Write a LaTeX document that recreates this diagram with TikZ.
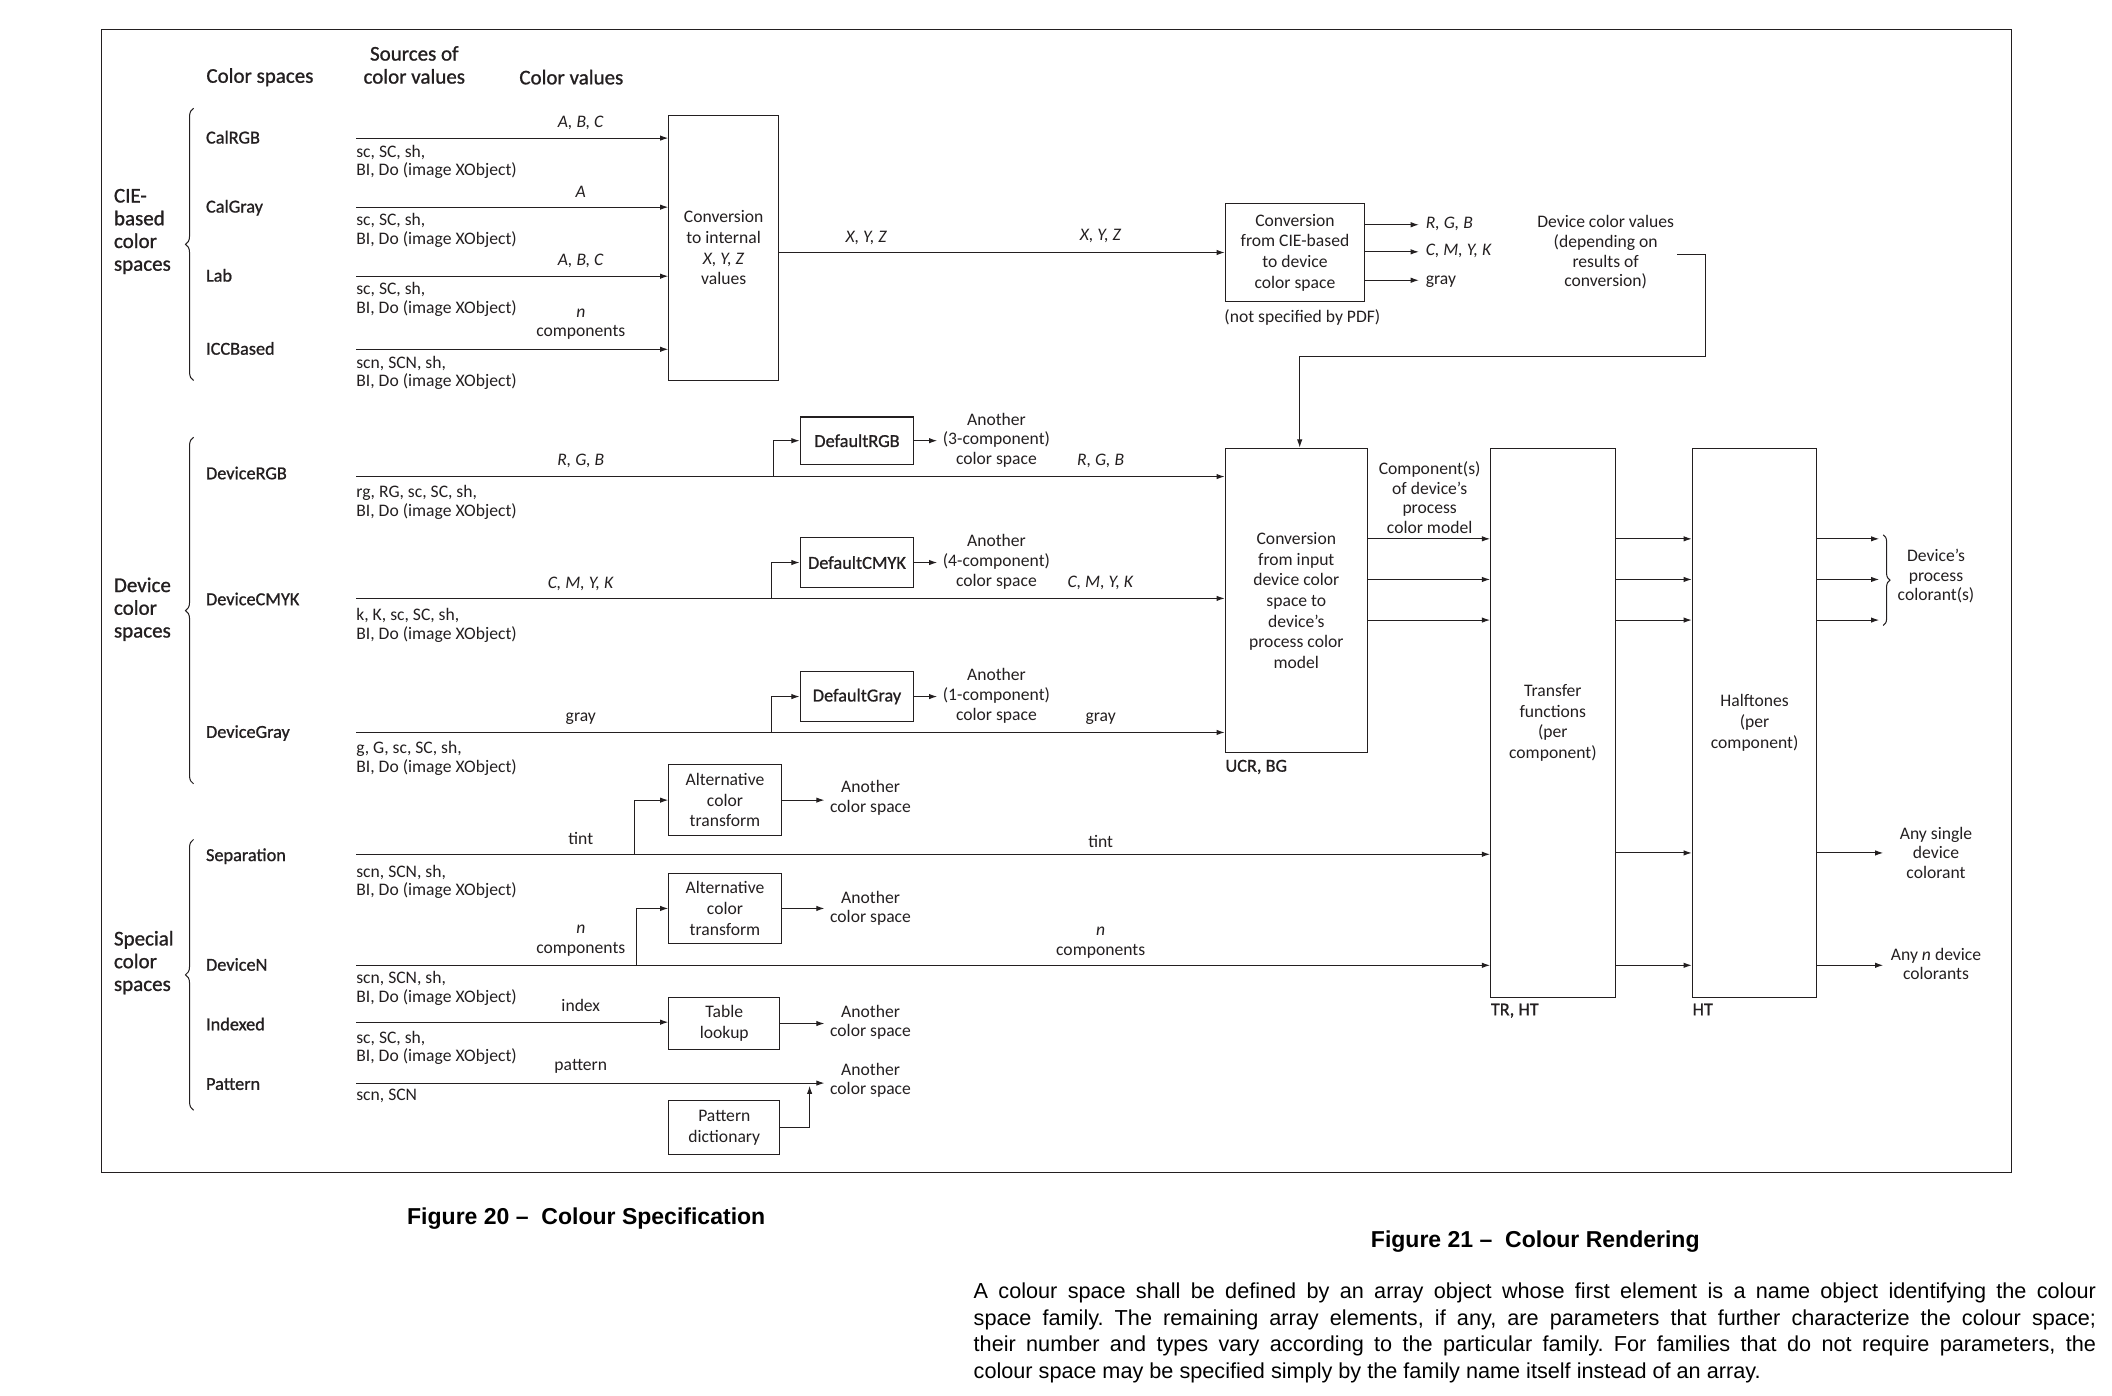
\documentclass[tikz,border=0pt]{standalone}
\usepackage{fontspec}
\setmainfont{Carlito}
\newfontfamily\dfont{Carlito}
\newfontfamily\dsemi[FakeBold=1]{Carlito}
\newfontfamily\capfont{Liberation Sans}
\usetikzlibrary{arrows.meta,decorations.pathreplacing,calc}
\definecolor{ink}{HTML}{231F20}
\frenchspacing
\tikzset{
  arr/.style={draw=ink, line width=0.75pt, -{Latex[length=6pt,width=4pt]}},
  ln/.style={draw=ink, line width=0.75pt},
  bx/.style={draw=ink, line width=0.8pt, inner sep=0pt, align=center, text=ink, font=\dfont\fontsize{13}{15.3}\selectfont},
  bxs/.style={bx, font=\dsemi\fontsize{13.5}{15}\selectfont},
  lbl/.style={inner sep=0pt, align=center, text=ink, font=\dfont\fontsize{13}{14.5}\selectfont},
  one/.style={text height=8.5pt, text depth=2.5pt},
  src/.style={inner sep=0pt, align=left, anchor=west, text=ink, font=\dfont\fontsize{13}{13.8}\selectfont},
  item/.style={inner sep=0pt, anchor=west, text=ink, text height=8.5pt, text depth=2.5pt, font=\dsemi\fontsize{13.5}{15}\selectfont},
  grp/.style={inner sep=0pt, anchor=west, align=left, text=ink, font=\dsemi\fontsize{15.5}{16.8}\selectfont},
  hdr/.style={inner sep=0pt, align=center, text=ink, font=\dsemi\fontsize{15.5}{17}\selectfont},
  brc/.style={draw=ink, line width=0.75pt, decorate, decoration={brace, amplitude=6pt}},
  capn/.style={inner sep=0pt, font=\capfont\bfseries\fontsize{17}{20}\selectfont},
  body/.style={inner sep=0pt, anchor=west, font=\capfont\fontsize{16}{19.5}\selectfont},
}
\begin{document}
\begin{tikzpicture}[x=1pt,y=-1pt]
\useasboundingbox (0,0) rectangle (1560,1031);
\node[draw=ink, line width=0.8pt, minimum width=1411pt, minimum height=844pt, inner sep=0pt] (frame) at (780.5,444) {};

% headers
\node[hdr] (hcs) at (192,57) {Color spaces};
\node[hdr] (hsrc) at (306,48) {Sources of\\color values};
\node[hdr] (hcv) at (422,57) {Color values};

% group labels and braces
\node[grp] (gcie) at (84,171) {CIE-\\based\\color\\spaces};
\node[grp] (gdev) at (84,450) {Device\\color\\spaces};
\node[grp] (gspc) at (84,711) {Special\\color\\spaces};
\coordinate (bc1) at (143,281); \coordinate (bc2) at (143,80);
\coordinate (bd1) at (143,579); \coordinate (bd2) at (143,323);
\coordinate (bs1) at (143,820); \coordinate (bs2) at (143,620);
\draw[brc] (bc1) -- (bc2);
\draw[brc] (bd1) -- (bd2);
\draw[brc] (bs1) -- (bs2);

% items
\node[item] (calrgb) at (152,103) {CalRGB};
\node[item] (calgray) at (152,154) {CalGray};
\node[item] (lab) at (152,205) {Lab};
\node[item] (icc) at (152,259) {ICCBased};
\node[item] (devrgb) at (152,351) {DeviceRGB};
\node[item] (devcmyk) at (152,444) {DeviceCMYK};
\node[item] (devgray) at (152,542) {DeviceGray};
\node[item] (sep) at (152,633) {Separation};
\node[item] (devn) at (152,714) {DeviceN};
\node[item] (idx) at (152,758) {Indexed};
\node[item] (pat) at (152,802) {Pattern};

% boxes
\node[bx, minimum width=81pt, minimum height=196pt] (cxyz) at (534.5,183) {Conversion\\to internal\\\textit{X, Y, Z}\\values};
\node[bx, minimum width=103pt, minimum height=73pt] (cie) at (956.5,186.5) {Conversion\\from CIE-based\\to device\\color space};
\node[bx, minimum width=105pt, minimum height=225pt] (conv) at (957.5,443.5) {Conversion\\from input\\device color\\space to\\device’s\\process color\\model};
\node[bxs, minimum width=84pt, minimum height=35pt] (drgb) at (633,325.5) {DefaultRGB};
\node[bxs, minimum width=84pt, minimum height=37pt] (dcmyk) at (633,415.5) {DefaultCMYK};
\node[bxs, minimum width=84pt, minimum height=37pt] (dgray) at (633,514.5) {DefaultGray};
\node[bx, minimum width=92pt, minimum height=406pt] (tr) at (1147,534) {Transfer\\functions\\(per\\component)};
\node[bx, minimum width=92pt, minimum height=406pt] (ht) at (1296,534) {Halftones\\(per\\component)};
\node[bx, minimum width=83pt, minimum height=52pt] (alt1) at (535.5,591) {Alternative\\color\\transform};
\node[bx, minimum width=83pt, minimum height=52pt] (alt2) at (535.5,671) {Alternative\\color\\transform};
\node[bx, minimum width=82pt, minimum height=38pt] (tl) at (535,756) {Table\\lookup};
\node[bx, minimum width=82pt, minimum height=40pt] (pd) at (535,833) {Pattern\\dictionary};

% CIE rows
\coordinate (s1) at (263,102);
\coordinate (s2) at (263,153);
\coordinate (s3) at (263,204);
\coordinate (s4) at (263,258);
\draw[arr] (s1) -- (s1 -| cxyz.west);
\draw[arr] (s2) -- (s2 -| cxyz.west);
\draw[arr] (s3) -- (s3 -| cxyz.west);
\draw[arr] (s4) -- (s4 -| cxyz.west);
\node[lbl, one] (v1) at (429,91) {\textit{A, B, C}};
\node[lbl, one] (v2) at (429,143) {\textit{A}};
\node[lbl, one] (v3) at (429,193) {\textit{A, B, C}};
\node[lbl] (v4) at (429,239.5) {\textit{n}\\components};
\node[src] (o1) at (263,119.5) {sc, SC, sh,\\BI, Do (image XObject)};
\node[src] (o2) at (263,170) {sc, SC, sh,\\BI, Do (image XObject)};
\node[src] (o3) at (263,221) {sc, SC, sh,\\BI, Do (image XObject)};
\node[src] (o4) at (263,275.5) {scn, SCN, sh,\\BI, Do (image XObject)};

% XYZ
\draw[arr] (cxyz.east |- cie.west) -- (cie.west);
\node[lbl, one] (xyz1) at (640,176) {\textit{X, Y, Z}};
\node[lbl, one] (xyz2) at (813,175) {\textit{X, Y, Z}};
\node[lbl, one] (nspec) at (962,235) {(not specified by PDF)};

% CIE outputs
\coordinate (e1) at (1048,166);
\coordinate (e2) at (1048,186);
\coordinate (e3) at (1048,207);
\draw[arr] (cie.east |- e1) -- (e1);
\draw[arr] (cie.east |- e2) -- (e2);
\draw[arr] (cie.east |- e3) -- (e3);
\node[lbl, one, anchor=west] (oRGB) at (1053,166) {\textit{R, G, B}};
\node[lbl, one, anchor=west] (oCMYK) at (1053,186) {\textit{C, M, Y, K}};
\node[lbl, one, anchor=west] (oGray) at (1053,207) {gray};
\node[lbl] (dcv) at (1186,186.5) {Device color values\\(depending on\\results of\\conversion)};
\coordinate (k1) at (1260,188);
\coordinate (k2) at (1260,263);
\coordinate (k3) at (960,263);
\draw[arr] ([xshift=2pt]dcv.east |- k1) -- (k1) -- (k2) -- (k3) -- (k3 |- conv.north);

% Device rows
\coordinate (sRGB) at (263,352);  \coordinate (bRGB) at (571,352);
\coordinate (sCMYK) at (263,442); \coordinate (bCMYK) at (570,442);
\coordinate (sGray) at (263,541); \coordinate (bGray) at (570,541);
\draw[arr] (sRGB) -- (sRGB -| conv.west);
\draw[arr] (sCMYK) -- (sCMYK -| conv.west);
\draw[arr] (sGray) -- (sGray -| conv.west);
\draw[arr] (bRGB) |- (drgb.west);
\draw[arr] (bCMYK) |- (dcmyk.west);
\draw[arr] (bGray) |- (dgray.west);
\node[lbl] (a3) at (736,325) {Another\\(3-component)\\color space};
\node[lbl] (a4) at (736,415) {Another\\(4-component)\\color space};
\node[lbl] (a1) at (736,514) {Another\\(1-component)\\color space};
\draw[arr] (drgb.east) -- ([xshift=-4pt]a3.west |- drgb.east);
\draw[arr] (dcmyk.east) -- ([xshift=-4pt]a4.west |- dcmyk.east);
\draw[arr] (dgray.east) -- ([xshift=-4pt]a1.west |- dgray.east);
\node[lbl, one] (vRGB) at (429,341) {\textit{R, G, B}};
\node[lbl, one] (vCMYK) at (429,432) {\textit{C, M, Y, K}};
\node[lbl, one] (vGray) at (429,530) {gray};
\node[lbl, one] (wRGB) at (813,341) {\textit{R, G, B}};
\node[lbl, one] (wCMYK) at (813,431) {\textit{C, M, Y, K}};
\node[lbl, one] (wGray) at (813,530) {gray};
\node[src] (oRGBs) at (263,371) {rg, RG, sc, SC, sh,\\BI, Do (image XObject)};
\node[src] (oCMYKs) at (263,462) {k, K, sc, SC, sh,\\BI, Do (image XObject)};
\node[src] (oGrays) at (263,560) {g, G, sc, SC, sh,\\BI, Do (image XObject)};
\node[item, anchor=west] (ucr) at (905,567) {UCR, BG};

% conv -> transfer
\coordinate (yA) at (0,398);
\coordinate (yB) at (0,428);
\coordinate (yC) at (0,458);
\coordinate (yD) at (0,630);
\coordinate (yE) at (0,713);
\draw[arr] (conv.east |- yA) -- (tr.west |- yA);
\draw[arr] (conv.east |- yB) -- (tr.west |- yB);
\draw[arr] (conv.east |- yC) -- (tr.west |- yC);
\node[lbl] (comp) at (1056,367.5) {Component(s)\\of device’s\\process\\color model};

% transfer -> halftones
\draw[arr] (tr.east |- yA) -- (ht.west |- yA);
\draw[arr] (tr.east |- yB) -- (ht.west |- yB);
\draw[arr] (tr.east |- yC) -- (ht.west |- yC);
\draw[arr] (tr.east |- yD) -- (ht.west |- yD);
\draw[arr] (tr.east |- yE) -- (ht.west |- yE);
\node[item, anchor=west] (trht) at (1101,747) {TR, HT};
\node[item, anchor=west] (htl) at (1250,747) {HT};

% halftones outputs
\coordinate (c1) at (1388,398);
\coordinate (c2) at (1388,428);
\coordinate (c3) at (1388,458);
\coordinate (c4) at (1391,630);
\coordinate (c5) at (1391,713);
\draw[arr] (ht.east |- c1) -- (c1);
\draw[arr] (ht.east |- c2) -- (c2);
\draw[arr] (ht.east |- c3) -- (c3);
\draw[arr] (ht.east |- c4) -- (c4);
\draw[arr] (ht.east |- c5) -- (c5);
\coordinate (rb1) at (1391,395); \coordinate (rb2) at (1391,462);
\draw[brc, decoration={brace, amplitude=5pt}] (rb1) -- (rb2);
\node[lbl] (dpc) at (1430,425.5) {Device’s\\process\\colorant(s)};
\node[lbl] (asd) at (1430,630) {Any single\\device\\colorant};
\node[lbl] (and) at (1430,712) {Any \textit{n} device\\colorants};

% special rows
\coordinate (sSep) at (263,631); \coordinate (bSep) at (469,631);
\coordinate (sN) at (263,713); \coordinate (bN) at (470,713);
\coordinate (sIdx) at (263,755);
\coordinate (sPat) at (263,800);
\draw[arr] (sSep) -- (sSep -| tr.west);
\draw[arr] (sN) -- (sN -| tr.west);
\draw[arr] (bSep) |- (alt1.west);
\draw[arr] (bN) |- (alt2.west);
\draw[arr] (sIdx) -- (sIdx -| tl.west);
\node[lbl] (ac1) at (643,589.5) {Another\\color space};
\node[lbl] (ac2) at (643,671) {Another\\color space};
\node[lbl] (ac3) at (643,755) {Another\\color space};
\node[lbl] (ac4) at (643,798) {Another\\color space};
\draw[arr] (alt1.east) -- ([xshift=-4pt]ac1.west |- alt1.east);
\draw[arr] (alt2.east) -- ([xshift=-4pt]ac2.west |- alt2.east);
\draw[arr] (tl.east) -- ([xshift=-4pt]ac3.west |- tl.east);
\draw[arr] (sPat) -- ([xshift=-4pt]ac4.west |- sPat);
\coordinate (pj) at (598,802);
\draw[arr] (pd.east) -| (pj);
\node[lbl, one] (vtint) at (429,621) {tint};
\node[lbl, one] (wtint) at (813,623) {tint};
\node[lbl] (vn) at (429,695) {\textit{n}\\components};
\node[lbl] (wn) at (813,696.5) {\textit{n}\\components};
\node[lbl, one] (vidx) at (429,744) {index};
\node[lbl, one] (vpat) at (429,788) {pattern};
\node[src] (oSep) at (263,651.5) {scn, SCN, sh,\\BI, Do (image XObject)};
\node[src] (oN) at (263,730) {scn, SCN, sh,\\BI, Do (image XObject)};
\node[src] (oIdx) at (263,774) {sc, SC, sh,\\BI, Do (image XObject)};
\node[src, one] (oPat) at (263,810) {scn, SCN};

% captions and body
\node[capn] (f20) at (433,900) {Figure 20 –\ \ Colour Specification};
\node[capn] (f21) at (1134,917) {Figure 21 –\ \ Colour Rendering};
\node[body] (b1) at (719,955) {\makebox[829pt][s]{A colour space shall be defined by an array object whose first element is a name object identifying the colour}};
\node[body] (b2) at (719,975) {\makebox[829pt][s]{space family. The remaining array elements, if any, are parameters that further characterize the colour space;}};
\node[body] (b3) at (719,994) {\makebox[829pt][s]{their number and types vary according to the particular family. For families that do not require parameters, the}};
\node[body] (b4) at (719,1014) {colour space may be specified simply by the family name itself instead of an array.};
\end{tikzpicture}
\end{document}
